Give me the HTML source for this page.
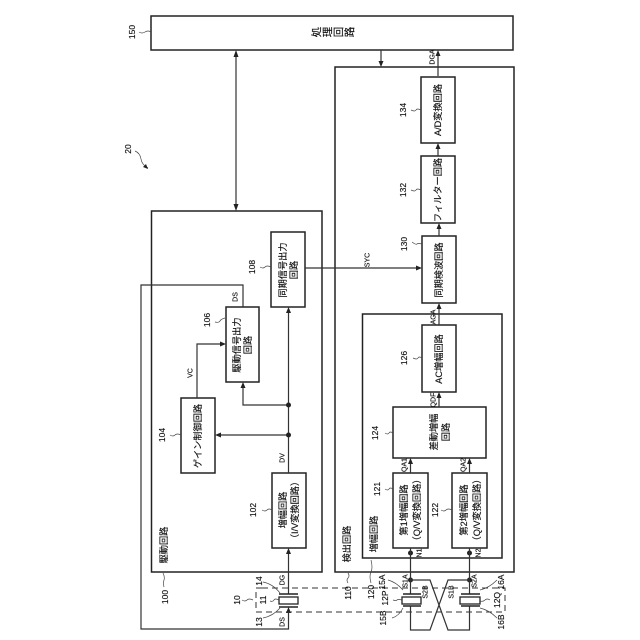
<!DOCTYPE html>
<html><head><meta charset="utf-8"><style>
html,body{margin:0;padding:0;background:#fff}
svg{display:block}
text{font-family:"Liberation Sans","Noto Sans CJK JP",sans-serif;font-size:9.200px;fill:#111;stroke:#111;stroke-width:.15;text-anchor:middle;dominant-baseline:central}
.s{font-size:7px}
.n{font-size:8.500px}
.p{font-size:10.500px}
.b{fill:none;stroke:#222;stroke-width:1.500}
.l{fill:none;stroke:#333;stroke-width:1.200}
.d{fill:none;stroke:#333;stroke-width:1;stroke-dasharray:6 4}
.h{fill:none;stroke:#444;stroke-width:.7}
.a{fill:#222}
</style></head><body>
<svg width="640" height="640" viewBox="0 0 640 640" xmlns="http://www.w3.org/2000/svg">
<!-- containers -->
<rect class="b" x="151" y="16" width="362" height="34"/>
<rect class="b" x="151.500" y="211" width="170.500" height="361"/>
<rect class="b" x="335" y="67" width="179" height="505"/>
<rect class="b" x="362.500" y="314" width="139.500" height="244"/>
<!-- boxes -->
<rect class="b" x="421" y="77" width="34" height="66"/>
<rect class="b" x="421" y="156" width="34" height="67"/>
<rect class="b" x="422" y="236" width="34" height="67"/>
<rect class="b" x="422" y="325" width="34" height="67"/>
<rect class="b" x="393" y="407" width="93" height="51"/>
<rect class="b" x="393" y="473" width="35" height="75"/>
<rect class="b" x="452" y="473" width="35" height="75"/>
<rect class="b" x="271" y="232" width="34" height="75"/>
<rect class="b" x="226" y="307" width="33" height="75"/>
<rect class="b" x="181" y="398" width="34" height="75"/>
<rect class="b" x="272" y="473" width="34" height="75"/>
<!-- connectors -->
<path class="l" d="M236 53V208M381 50V64M438 76V53M438 156V146M439 236V226M439 325V306M439 407V395M410.500 473V461M469.500 473V461"/>
<path class="l" d="M288.500 594V551M288.500 473V310M288.500 435H218M288.500 405H243V385M197 398V344H223M243 307V285H141V629H288.500V610M305 268H419"/>
<path class="a" d="M236 50l-2.500 7h5zM236 211l-2.500-7h5zM381 67l-2.500-6h5zM438 50l-2.500 6h5zM438 143l-2.500 6h5zM439 223l-2.500 6h5zM439 303l-2.500 6h5zM439 392l-2.500 6h5zM410.500 458l-2.500 6h5zM469.500 458l-2.500 6h5zM288.500 548l-2.500 6h5zM288.500 307l-2.500 6h5zM215 435l6-2.500v5zM243 382l-2.500 6h5zM226 344l-6-2.500v5zM288.500 607l-2.500 6h5zM422 268l-6-2.500v5z"/>
<circle class="a" cx="288.500" cy="405" r="2.500"/><circle class="a" cx="288.500" cy="435" r="2.500"/>
<circle class="a" cx="410.500" cy="553" r="2.500"/><circle class="a" cx="469.500" cy="553" r="2.500"/>
<circle class="a" cx="410.500" cy="580" r="2.500"/><circle class="a" cx="469.500" cy="580" r="2.500"/>
<!-- sensing wires -->
<path class="l" d="M410.500 548V594M469.500 548V594M410.500 606V630H430L448 580H469.500M469.500 606V630H448L430 580H410.500"/>
<!-- dashed frame -->
<path class="d" d="M262 588H256V612H505V588H262"/>
<!-- elements -->
<rect x="279" y="597" width="19" height="7" fill="#fff" stroke="#222" stroke-width="1.300"/>
<path class="b" d="M279 594H298M279 607H298"/>
<rect x="402" y="597" width="19" height="7" fill="#fff" stroke="#222" stroke-width="1.300"/>
<path class="b" d="M403 594H421M403 606H421"/>
<rect x="460" y="597" width="20" height="7" fill="#fff" stroke="#222" stroke-width="1.300"/>
<path class="b" d="M461 594H480M461 606H480"/>
<!-- leaders -->
<path class="h" d="M139 32q3 2 6 0t6 0M135 151q5 2 6 8t7 9M411 110q4 2 5 0t5 0M411 190q4 2 5 0t5 0M412 242q4 3 5 2t5 0M413 358q4 2 5 0t4 0M385 433q3 2 4 0t4 0M385 489q3 2 4 0t4 0M441 510q3 2 5 0t6 0M163 573q2 4 1 7t0 7M170 435q3 2 5 0t6 0M262 510q3 2 5 0t5 0M215 322q4 1 5-1t5-3M260 267q3 2 5 0t6 0M263 582q10 2 17 11M263 618q10-2 17-10M242 600q3 2 5 0t6 0M270 601q3 1 4-1t5 0M348 573q2 3 0 5t0 5M371 560q2 8 0 12t0 11M388 580q8 2 15 10M393 600q3 1 4 0t5 0M392 618q7-2 11-10M480 590q9-2 17-10M480 601q3 1 5-1t5 0M480 608q9 2 17 10"/>
<path class="a" d="M148 169l-5-2 3-3z"/>
<!-- reference numerals -->
<text class="n" transform="translate(132 32) rotate(-90)">150</text>
<text class="n" transform="translate(128 149) rotate(-90)">20</text>
<text class="n" transform="translate(403 110) rotate(-90)">134</text>
<text class="n" transform="translate(403 190) rotate(-90)">132</text>
<text class="n" transform="translate(404 244) rotate(-90)">130</text>
<text class="n" transform="translate(404 358) rotate(-90)">126</text>
<text class="n" transform="translate(375 433) rotate(-90)">124</text>
<text class="n" transform="translate(377 489) rotate(-90)">121</text>
<text class="n" transform="translate(435 510) rotate(-90)">122</text>
<text class="n" transform="translate(165 597) rotate(-90)">100</text>
<text class="n" transform="translate(162 435) rotate(-90)">104</text>
<text class="n" transform="translate(253 510) rotate(-90)">102</text>
<text class="n" transform="translate(207 320) rotate(-90)">106</text>
<text class="n" transform="translate(252 267) rotate(-90)">108</text>
<text class="n" transform="translate(259 581) rotate(-90)">14</text>
<text class="n" transform="translate(259 622) rotate(-90)">13</text>
<text class="n" transform="translate(237 600) rotate(-90)">10</text>
<text class="n" transform="translate(263 600) rotate(-90)">11</text>
<text class="n" transform="translate(348 593) rotate(-90)">110</text>
<text class="n" transform="translate(371 592) rotate(-90)">120</text>
<text class="n" transform="translate(382 582) rotate(-90)">15A</text>
<text class="n" transform="translate(385 598) rotate(-90)">12P</text>
<text class="n" transform="translate(383 618) rotate(-90)">15B</text>
<text class="n" transform="translate(501 582) rotate(-90)">16A</text>
<text class="n" transform="translate(497 600) rotate(-90)">12Q</text>
<text class="n" transform="translate(501 622) rotate(-90)">16B</text>
<!-- signal labels -->
<text class="s" transform="translate(433 57) rotate(-90)">DGA</text>
<text class="s" transform="translate(434 317) rotate(-90)">AGA</text>
<text class="s" transform="translate(434 400) rotate(-90)">QDF</text>
<text class="s" transform="translate(405 465) rotate(-90)">QA1</text>
<text class="s" transform="translate(464 465) rotate(-90)">QA2</text>
<text class="s" transform="translate(420 553) rotate(-90)">N1</text>
<text class="s" transform="translate(479 553) rotate(-90)">N2</text>
<text class="s" transform="translate(191 373) rotate(-90)">VC</text>
<text class="s" transform="translate(236 297) rotate(-90)">DS</text>
<text class="s" transform="translate(368 260) rotate(-90)">SYC</text>
<text class="s" transform="translate(283 458) rotate(-90)">DV</text>
<text class="s" transform="translate(283 580) rotate(-90)">DG</text>
<text class="s" transform="translate(283 622) rotate(-90)">DS</text>
<text class="s" transform="translate(406 581) rotate(-90)">S1A</text>
<text class="s" transform="translate(426 592) rotate(-90)">S2B</text>
<text class="s" transform="translate(452 592) rotate(-90)">S1B</text>
<text class="s" transform="translate(475 581) rotate(-90)">S2A</text>
<!-- box text -->
<text class="p" transform="translate(317 32) rotate(-90)">処</text>
<text class="p" transform="translate(328 32) rotate(-90)">理</text>
<text class="p" transform="translate(339 32) rotate(-90)">回</text>
<text class="p" transform="translate(350 32) rotate(-90)">路</text>
<text transform="translate(438 110) rotate(-90)">A/D変換回路</text>
<text transform="translate(438 190) rotate(-90)">フィルター回路</text>
<text transform="translate(439 270) rotate(-90)">同期検波回路</text>
<text transform="translate(439 359) rotate(-90)">AC増幅回路</text>
<text transform="translate(434 432) rotate(-90)">差動増幅</text>
<text transform="translate(446 432) rotate(-90)">回路</text>
<text transform="translate(404 510) rotate(-90)">第1増幅回路</text>
<text transform="translate(417 510) rotate(-90)">（Q/V変換回路）</text>
<text transform="translate(464 510) rotate(-90)">第2増幅回路</text>
<text transform="translate(477 510) rotate(-90)">（Q/V変換回路）</text>
<text transform="translate(283 510) rotate(-90)">増幅回路</text>
<text transform="translate(295 510) rotate(-90)">（I/V変換回路）</text>
<text transform="translate(283 270) rotate(-90)">同期信号出力</text>
<text transform="translate(294 270) rotate(-90)">回路</text>
<text transform="translate(237 345) rotate(-90)">駆動信号出力</text>
<text transform="translate(248 345) rotate(-90)">回路</text>
<text transform="translate(198 436) rotate(-90)">ゲイン制御回路</text>
<text transform="translate(164 545) rotate(-90)">駆動回路</text>
<text transform="translate(347 544) rotate(-90)">検出回路</text>
<text transform="translate(374 534) rotate(-90)">増幅回路</text>
</svg>
</body></html>
